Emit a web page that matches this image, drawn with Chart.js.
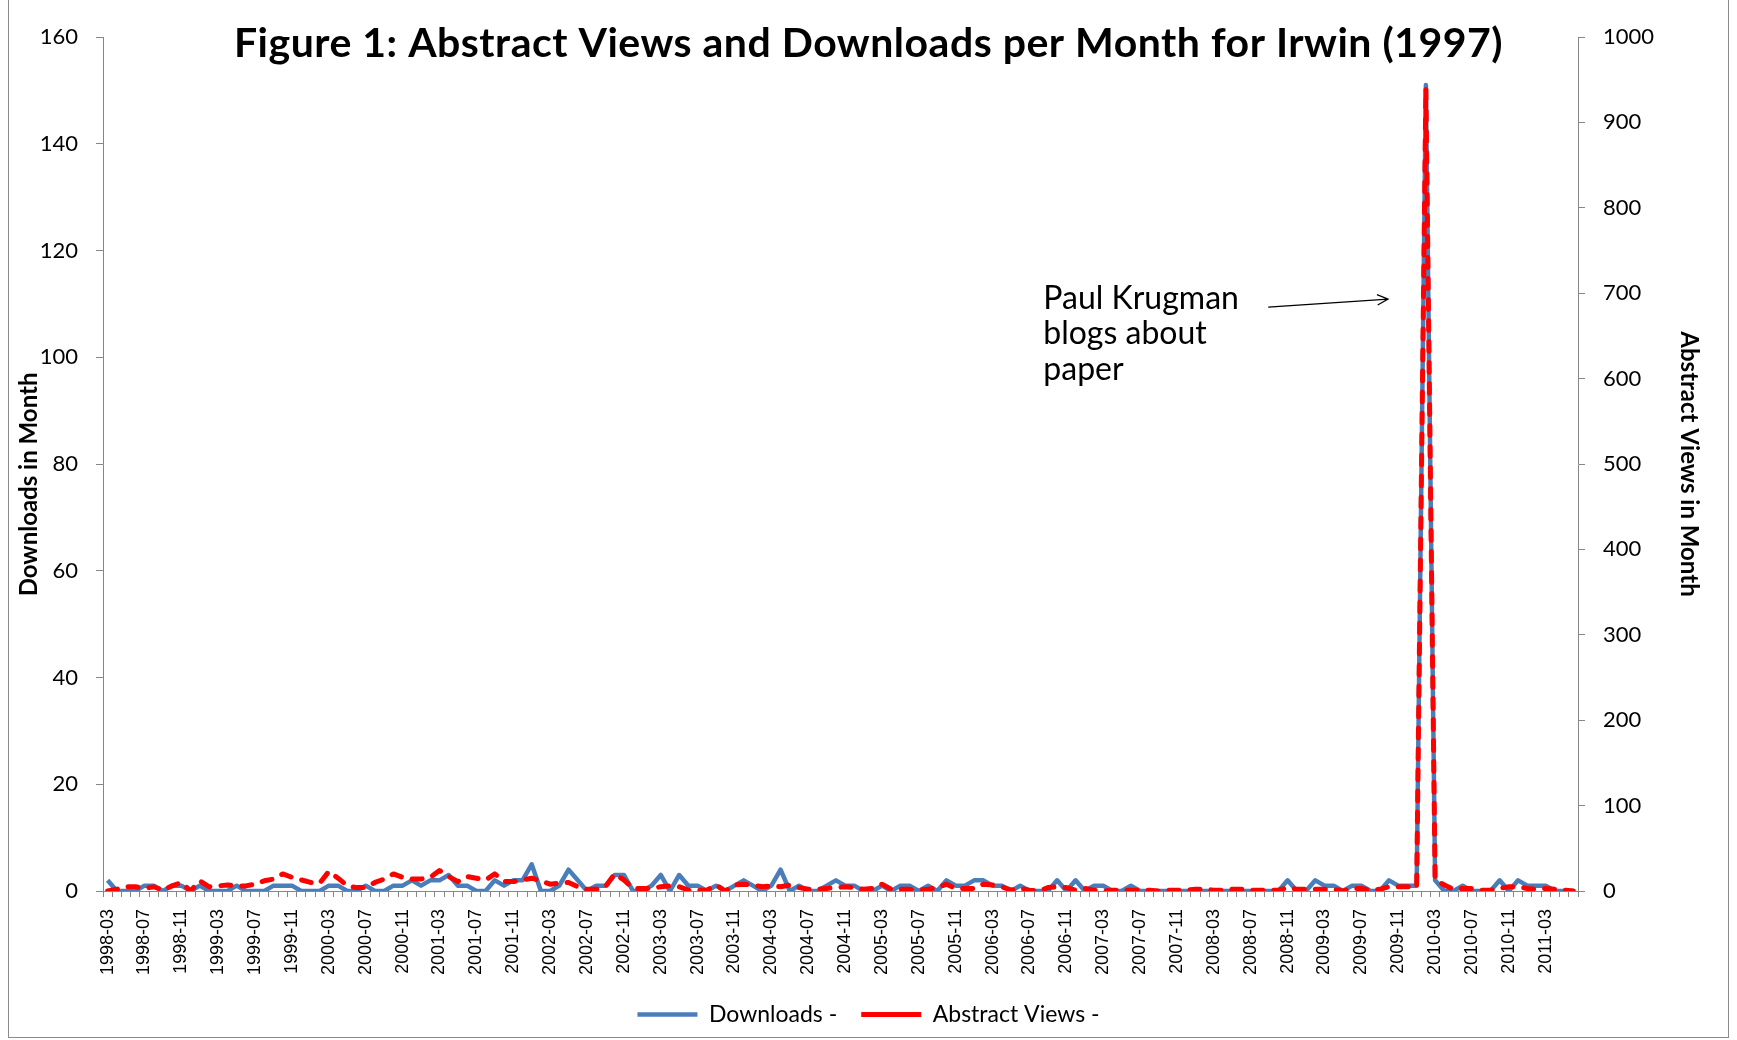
<!DOCTYPE html>
<html>
<head>
<meta charset="utf-8">
<title>Figure 1: Abstract Views and Downloads per Month for Irwin (1997)</title>
<script src="https://cdn.jsdelivr.net/npm/chart.js@4.4.1/dist/chart.umd.min.js"></script>
<style>
  html, body { margin: 0; padding: 0; background: #fff; }
  #wrap { width: 1737px; height: 1040px; position: relative; }
</style>
</head>
<body>
<div id="wrap"><canvas id="irwin-canvas"></canvas></div>
<script>
// Monthly categories, 1998-03 .. 2011-06
const startYear = 1998;
const startMonth = 3;
const monthCount = 160;
const months = Array.from({ length: monthCount }, (_, i) => {
  const m = startMonth - 1 + i;
  return `${startYear + Math.floor(m / 12)}-${String((m % 12) + 1).padStart(2, "0")}`;
});
const labelEvery = 4; // one visible tick label every 4 months

// Downloads per month (left axis)
const downloads = [
  2, 0, 0, 0, 1, 1, 0, 1, 1, 0,
  1, 0, 0, 0, 1, 0, 0, 0, 1, 1,
  1, 0, 0, 0, 1, 1, 0, 0, 1, 0,
  0, 1, 1, 2, 1, 2, 2, 3, 1, 1,
  0, 0, 2, 1, 2, 2, 5, 0, 0, 1,
  4, 2, 0, 1, 1, 3, 3, 0, 0, 1,
  3, 0, 3, 1, 1, 0, 1, 0, 1, 2,
  1, 0, 1, 4, 0, 1, 0, 0, 1, 2,
  1, 1, 0, 0, 1, 0, 1, 1, 0, 1,
  0, 2, 1, 1, 2, 2, 1, 1, 0, 1,
  0, 0, 0, 2, 0, 2, 0, 1, 1, 0,
  0, 1, 0, 0, 0, 0, 0, 0, 0, 0,
  0, 0, 0, 0, 0, 0, 0, 0, 2, 0,
  0, 2, 1, 1, 0, 1, 1, 0, 0, 2,
  1, 1, 1, 151, 2, 0, 0, 1, 0, 0,
  0, 2, 0, 2, 1, 1, 1, 0, 0, 0,
];

// Abstract views per month (right axis)
const abstractViews = [
  0, 2, 5, 5, 3, 5, 1, 6, 10, 0,
  12, 5, 6, 7, 6, 6, 8, 12, 14, 20,
  16, 13, 10, 9, 23, 15, 6, 4, 4, 10,
  14, 20, 16, 14, 14, 16, 24, 17, 11, 17,
  15, 13, 20, 11, 11, 13, 15, 12, 8, 9,
  10, 5, 2, 2, 5, 20, 13, 3, 3, 3,
  5, 6, 5, 1, 1, 1, 7, 0, 7, 8,
  7, 5, 6, 5, 7, 4, 2, 2, 3, 4,
  5, 4, 2, 3, 8, 2, 2, 2, 1, 2,
  4, 8, 3, 3, 3, 8, 7, 5, 1, 3,
  1, 0, 4, 5, 4, 1, 3, 1, 0, 1,
  1, 1, 1, 1, 0, 1, 1, 1, 2, 2,
  1, 1, 2, 2, 1, 1, 1, 1, 4, 2,
  2, 2, 2, 2, 0, 3, 3, 1, 2, 5,
  5, 5, 4, 940, 13, 7, 2, 3, 3, 1,
  1, 3, 5, 5, 3, 2, 3, 2, 1, 0,
];

const titleText = "Figure 1: Abstract Views and Downloads per Month for Irwin (1997)";
const noteLines = ["Paul Krugman", "blogs about", "paper"];
// annotation anchors in data units (month index, downloads)
const notePos = { month: 101.5, downloads: 111 };
const arrowFrom = { month: 125.9, downloads: 109.4 };
const arrowTo = { month: 138.9, downloads: 110.9 };

const AXIS_GREY = "#868686";
const CALIBRI_ISH = "Lato, 'Open Sans', sans-serif";

// Scale snippet: axis line + outward tick marks, no gridlines
const axisOnly = (tickLength) => ({
  grid: { drawOnChartArea: false, drawTicks: true, tickLength, color: AXIS_GREY },
  border: { display: true, color: AXIS_GREY, width: 1 },
});

// background, outer frame, title and the Krugman note
const figureExtras = {
  id: "figureExtras",
  beforeDraw(chart) {
    const { ctx, width, height } = chart;
    ctx.save();
    ctx.fillStyle = "#fff";
    ctx.fillRect(0, 0, width, height);
    ctx.strokeStyle = "#8c8c8c";
    ctx.lineWidth = 1;
    ctx.strokeRect(8.5, -2, width - 17, height - 0.5);
    ctx.restore();
  },
  afterDraw(chart) {
    const { ctx, scales: { x, y } } = chart;
    ctx.save();
    ctx.fillStyle = "#000";
    ctx.textBaseline = "middle";

    ctx.textAlign = "center";
    ctx.font = `bold 41px ${CALIBRI_ISH}`;
    ctx.letterSpacing = "0.5px";
    ctx.fillText(titleText, chart.width / 2, 44);
    ctx.letterSpacing = "0px";

    ctx.textAlign = "left";
    ctx.font = `32px ${CALIBRI_ISH}`;
    const nx = x.getPixelForValue(notePos.month);
    const ny = y.getPixelForValue(notePos.downloads);
    noteLines.forEach((t, k) => ctx.fillText(t, nx, ny + k * 35.5));

    // arrow with open head
    const x0 = x.getPixelForValue(arrowFrom.month), y0 = y.getPixelForValue(arrowFrom.downloads);
    const x1 = x.getPixelForValue(arrowTo.month), y1 = y.getPixelForValue(arrowTo.downloads);
    const a = Math.atan2(y1 - y0, x1 - x0);
    ctx.strokeStyle = "#000";
    ctx.lineWidth = 1.2;
    ctx.beginPath();
    ctx.moveTo(x0, y0);
    ctx.lineTo(x1, y1);
    ctx.moveTo(x1 - 12 * Math.cos(a - 0.45), y1 - 12 * Math.sin(a - 0.45));
    ctx.lineTo(x1, y1);
    ctx.lineTo(x1 - 12 * Math.cos(a + 0.45), y1 - 12 * Math.sin(a + 0.45));
    ctx.stroke();
    ctx.restore();
  },
};

new Chart(document.getElementById("irwin-canvas"), {
  type: "line",
  data: {
    labels: months,
    datasets: [
      {
        label: "Downloads -",
        data: downloads,
        yAxisID: "y",
        borderColor: "#4A7EBB",
        backgroundColor: "#4A7EBB",
        borderWidth: 4.5,
        borderJoinStyle: "round",
        pointRadius: 0,
        tension: 0,
        order: 1,
      },
      {
        label: "Abstract Views -",
        data: abstractViews,
        yAxisID: "y1",
        borderColor: "#FF0000",
        backgroundColor: "#FF0000",
        borderWidth: 5,
        borderDash: [10, 11],
        borderCapStyle: "round",
        borderJoinStyle: "round",
        pointRadius: 0,
        tension: 0,
        order: 0, // dashed red drawn over the blue
      },
    ],
  },
  options: {
    responsive: true,
    maintainAspectRatio: false,
    animation: false,
    devicePixelRatio: 1,
    layout: { padding: { left: 0, right: 0, top: 37, bottom: 4 } },
    scales: {
      x: {
        ...axisOnly(6),
        offset: true,
        grid: { drawOnChartArea: false, drawTicks: true, tickLength: 6, color: AXIS_GREY, offset: true },
        ticks: {
          autoSkip: false,
          minRotation: 90,
          maxRotation: 90,
          padding: 12,
          color: "#000",
          font: { family: "'Liberation Sans', Arial, sans-serif", size: 18 },
          callback: (v, i) => (i % labelEvery === 0 ? months[i] : ""),
        },
        afterFit: (s) => { s.height = 88; },
      },
      y: {
        ...axisOnly(7),
        position: "left",
        min: 0,
        max: 160,
        ticks: { stepSize: 20, padding: 18, color: "#000", font: { family: CALIBRI_ISH, size: 22 }, callback: (v) => String(v) },
        title: {
          display: true,
          // trailing no-break spaces nudge the visible title a little lower, as in the figure
          text: "Downloads in Month\u00a0\u00a0\u00a0\u00a0\u00a0\u00a0\u00a0",
          color: "#000",
          font: { family: CALIBRI_ISH, size: 24, weight: "bold" },
          padding: { top: 15, bottom: 0 },
        },
        afterFit: (s) => { s.width = 103; },
      },
      y1: {
        ...axisOnly(7),
        position: "right",
        min: 0,
        max: 1000,
        ticks: { stepSize: 100, padding: 18, color: "#000", font: { family: CALIBRI_ISH, size: 22 }, callback: (v) => String(v) },
        title: {
          display: true,
          text: "Abstract Views in Month",
          color: "#000",
          font: { family: CALIBRI_ISH, size: 24, weight: "bold" },
          padding: { top: 34, bottom: 0 },
        },
        afterFit: (s) => { s.width = 159; },
      },
    },
    plugins: {
      legend: {
        display: true,
        position: "bottom",
        labels: {
          usePointStyle: true,
          pointStyle: "line",
          pointStyleWidth: 60,
          padding: 24,
          color: "#000",
          font: { family: CALIBRI_ISH, size: 23 },
          sort: (a, b) => a.datasetIndex - b.datasetIndex,
        },
      },
      title: { display: false },
      tooltip: { enabled: false },
    },
  },
  plugins: [figureExtras],
});
</script>
</body>
</html>
